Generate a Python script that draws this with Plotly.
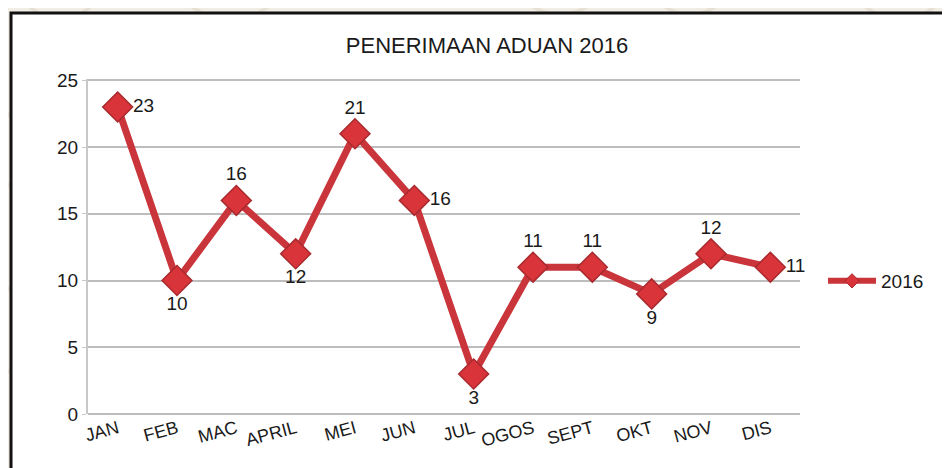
import plotly.graph_objects as go

months = ["JAN", "FEB", "MAC", "APRIL", "MEI", "JUN", "JUL", "OGOS", "SEPT", "OKT", "NOV", "DIS"]
values_2016 = [23, 10, 16, 12, 21, 16, 3, 11, 11, 9, 12, 11]
label_pos = ["middle right", "bottom center", "top center", "bottom center", "top center",
             "middle right", "bottom center", "top center", "top center", "bottom center",
             "top center", "middle right"]
y_ticks = [0, 5, 10, 15, 20, 25]
y_range = [0, 25.1]
series_name = "2016"
title_text = "PENERIMAAN ADUAN 2016"

FONT = "Liberation Sans, Arial, sans-serif"
W, H = 950, 468
OFF = 8  # page body margin offset
L, R, T, B = 88 - OFF, 800 - OFF, 79 - OFF, 414 - OFF


def px_x(p):
    return (p - OFF - L) / (R - L)


def px_y(p):
    return (B - (p - OFF)) / (B - T)


LINE_C = "#c9353a"
MARK_C = "#d8343a"
MARK_EDGE = "#a82a2e"

fig = go.Figure()
fig.add_trace(go.Scatter(
    x=months, y=values_2016, name=series_name, showlegend=False,
    mode="lines+markers+text",
    line=dict(color=LINE_C, width=7),
    marker=dict(symbol="diamond", size=23, color=MARK_C,
                line=dict(color=MARK_EDGE, width=1.5)),
    text=[str(v) for v in values_2016], textposition=label_pos,
    textfont=dict(family=FONT, size=19, color="#1a1a1a"),
    cliponaxis=False,
))
# legend-only entry (no data points)
fig.add_trace(go.Scatter(
    x=[None], y=[None], name=series_name, mode="lines+markers",
    line=dict(color=LINE_C, width=6),
    marker=dict(symbol="diamond", size=11, color=MARK_C, line=dict(color=MARK_EDGE, width=1)),
))

shapes = []
for cx, cy, r in [(60, -20, 40), (230, -40, 60), (560, -30, 45), (690, -25, 40), (-10, 150, 40),
                  (-10, 330, 45), (900, -30, 50), (400, -50, 55)]:
    shapes.append(dict(type="circle", xref="paper", yref="paper",
                       x0=px_x(cx - r), x1=px_x(cx + r), y0=px_y(cy + r), y1=px_y(cy - r),
                       line=dict(color="#e6e0d3", width=4), fillcolor="rgba(0,0,0,0)",
                       layer="below"))
shapes.append(dict(type="rect", xref="paper", yref="paper",
                   x0=px_x(11), x1=px_x(980), y0=px_y(500), y1=px_y(13),
                   line=dict(color="#111111", width=3), fillcolor="white", layer="below"))

fig.update_layout(
    width=W, height=H,
    margin=dict(l=L, r=W - R, t=T, b=H - B),
    paper_bgcolor="#f1ede4",
    plot_bgcolor="rgba(0,0,0,0)",
    shapes=shapes,
    title=dict(text=title_text, x=(487 - OFF) / W, xanchor="center",
               y=1 - (45 - OFF) / H, yanchor="middle",
               font=dict(family=FONT, size=22, color="#1a1a1a")),
    font=dict(family=FONT, color="#1a1a1a"),
    showlegend=True,
    legend=dict(x=px_x(823), xanchor="left", y=px_y(281), yanchor="middle",
                itemwidth=48,
                font=dict(family=FONT, size=19, color="#1a1a1a"),
                bgcolor="rgba(0,0,0,0)"),
    xaxis=dict(type="category", range=[-0.5, 11.5], showgrid=False, showline=False, ticks="",
               tickangle=-15, tickfont=dict(family=FONT, size=18, color="#1a1a1a"),
               fixedrange=True),
    yaxis=dict(range=y_range, tickvals=y_ticks, showgrid=True, gridcolor="#bdbdbd", gridwidth=2,
               zeroline=True, zerolinecolor="#bdbdbd", zerolinewidth=2,
               showline=True, linecolor="#c8c8c8", linewidth=2,
               ticks="outside", ticklen=4, tickcolor="#c8c8c8",
               tickfont=dict(family=FONT, size=19, color="#1a1a1a"), fixedrange=True),
)

fig.write_html("out.html", config={"displayModeBar": False})
